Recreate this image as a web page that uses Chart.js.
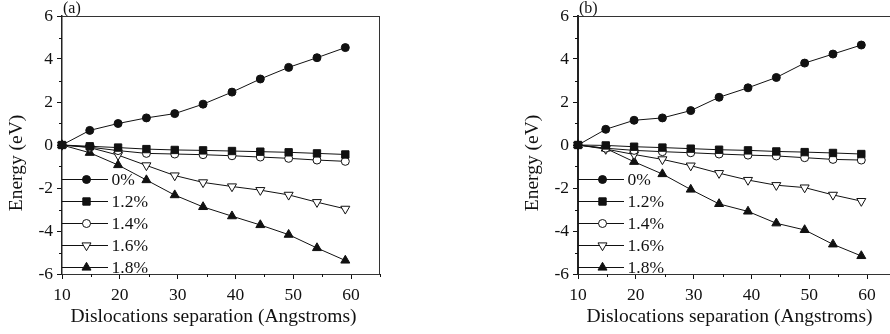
<!DOCTYPE html>
<html>
<head>
<meta charset="utf-8">
<script src="https://cdn.jsdelivr.net/npm/chart.js@4.4.1/dist/chart.umd.min.js"></script>
<style>
html, body { margin: 0; padding: 0; background: #fff; overflow: hidden; }
#wrap { position: relative; width: 890px; height: 334px; overflow: hidden; }
#boxA { position: absolute; left: 0; top: 0; width: 445px; height: 334px; }
#boxB { position: absolute; left: 445px; top: 0; width: 460px; height: 334px; }
</style>
</head>
<body>
<div id="wrap">
  <div id="boxA"><canvas id="chartA" width="445" height="334"></canvas></div>
  <div id="boxB"><canvas id="chartB" width="460" height="334"></canvas></div>
</div>
<script>
// separation in Angstroms (same for both panels)
const separation = [10, 14.8, 19.7, 24.6, 29.5, 34.4, 39.4, 44.3, 49.2, 54.1, 59.0]
const strainLabels = ['0%', '1.2%', '1.4%', '1.6%', '1.8%']
const xTicks = [10, 20, 30, 40, 50, 60]
const yTicks = [-6, -4, -2, 0, 2, 4, 6]

// panel (a)
const a0  = [0, 0.68, 1.00, 1.26, 1.46, 1.90, 2.46, 3.07, 3.61, 4.06, 4.53]
const a12 = [0, -0.06, -0.12, -0.19, -0.23, -0.25, -0.28, -0.31, -0.34, -0.39, -0.44]
const a14 = [0, -0.10, -0.26, -0.39, -0.42, -0.45, -0.50, -0.56, -0.62, -0.70, -0.76]
const a16 = [0, -0.12, -0.47, -0.95, -1.42, -1.74, -1.93, -2.10, -2.32, -2.66, -2.97]
const a18 = [0, -0.36, -0.93, -1.63, -2.33, -2.88, -3.31, -3.72, -4.17, -4.79, -5.37]

// panel (b)
const b0  = [0, 0.73, 1.15, 1.26, 1.60, 2.22, 2.66, 3.14, 3.81, 4.23, 4.65]
const b12 = [0, -0.02, -0.08, -0.12, -0.17, -0.22, -0.25, -0.30, -0.33, -0.37, -0.42]
const b14 = [0, -0.15, -0.25, -0.31, -0.36, -0.42, -0.47, -0.51, -0.59, -0.67, -0.70]
const b16 = [0, -0.19, -0.44, -0.67, -0.96, -1.31, -1.63, -1.87, -1.98, -2.32, -2.61]
const b18 = [0, -0.16, -0.78, -1.35, -2.07, -2.74, -3.09, -3.64, -3.95, -4.62, -5.16]

const serif = '"Liberation Serif", "Times New Roman", serif'
const ink = '#111'

// marker look per strain
const markers = [
    {pointStyle: 'circle',   radius: 4,   rotation: 0,   fill: ink},
    {pointStyle: 'rect',     radius: 5.2, rotation: 0,   fill: ink},
    {pointStyle: 'circle',   radius: 4,   rotation: 0,   fill: '#fff'},
    {pointStyle: 'triangle', radius: 5.2, rotation: 180, fill: '#fff'},
    {pointStyle: 'triangle', radius: 5.2, rotation: 0,   fill: ink}
]

function makeDatasets(seriesList)
{
    return seriesList.map((vals, i) => {
        var m = markers[i]
        return {
            label: strainLabels[i],
            data: vals.map((v, k) => ({x: separation[k], y: v})),
            borderColor: ink,
            borderWidth: 1,
            backgroundColor: m.fill,
            pointStyle: m.pointStyle,
            pointRadius: m.radius,
            pointRotation: m.rotation,
            pointBorderColor: ink,
            pointBackgroundColor: m.fill,
            pointBorderWidth: 1,
            tension: 0,
            clip: false
        }
    })
}

// frame, minor ticks, titles, panel letter and the inset legend
const decorPlugin = {
    id: 'decor',
    afterDraw(chart, args, opts) {
        var ctx = chart.ctx
        var area = chart.chartArea
        var xs = chart.scales.x, ys = chart.scales.y
        ctx.save()
        ctx.strokeStyle = '#333'
        ctx.lineWidth = 1
        ctx.beginPath()
        ctx.moveTo(area.left, area.top + 0.5)
        ctx.lineTo(area.right, area.top + 0.5)
        ctx.moveTo(area.right - 0.5, area.top)
        ctx.lineTo(area.right - 0.5, area.bottom)
        ctx.stroke()

        // minor ticks
        ctx.strokeStyle = ink
        ctx.beginPath()
        for (var v = -5; v <= 5; v += 2) {
            var py = Math.round(ys.getPixelForValue(v)) + 0.5
            ctx.moveTo(area.left - 3, py)
            ctx.lineTo(area.left, py)
        }
        for (var u = 15; u <= 65; u += 10) {
            var px = Math.round(xs.getPixelForValue(u)) + 0.5
            ctx.moveTo(px, area.bottom)
            ctx.lineTo(px, area.bottom + 3)
        }
        ctx.stroke()

        // axis titles
        ctx.fillStyle = ink
        ctx.font = '19.5px ' + serif
        ctx.textAlign = 'center'
        ctx.textBaseline = 'middle'
        ctx.fillText('Dislocations separation (Angstroms)', area.left + 151.5, 317)
        ctx.save()
        ctx.translate(area.left - 45.5, 163)
        ctx.rotate(-Math.PI / 2)
        ctx.fillText('Energy (eV)', 0, 0)
        ctx.restore()

        // panel letter
        ctx.font = '16px ' + serif
        ctx.textAlign = 'left'
        ctx.textBaseline = 'alphabetic'
        ctx.fillText(opts.letter, area.left + 1, 13)

        // legend
        ctx.font = '17.5px ' + serif
        ctx.textBaseline = 'middle'
        chart.data.datasets.forEach((ds, i) => {
            var ly = area.top + 163 + i * 22
            ctx.strokeStyle = ink
            ctx.lineWidth = 1
            ctx.beginPath()
            ctx.moveTo(area.left, ly + 0.5)
            ctx.lineTo(area.left + 46, ly + 0.5)
            ctx.stroke()
            ctx.fillStyle = ds.pointBackgroundColor
            ctx.strokeStyle = ink
            Chart.helpers.drawPoint(ctx, {
                pointStyle: ds.pointStyle,
                radius: ds.pointRadius,
                rotation: ds.pointRotation,
                borderWidth: 1
            }, area.left + 24.5, ly + 0.5)
            ctx.fillStyle = ink
            ctx.fillText(ds.label, area.left + 49.5, ly + 1)
        })
        ctx.restore()
    }
}

function makeChart(canvasId, seriesList, letter, axisWidth, rightPad, axisLine)
{
    var ctx = document.getElementById(canvasId).getContext('2d')
    return new Chart(ctx, {
        type: 'line',
        data: {datasets: makeDatasets(seriesList)},
        plugins: [decorPlugin],
        options: {
            responsive: false,
            animation: false,
            devicePixelRatio: 1,
            layout: {padding: {top: 16, right: rightPad, left: 0, bottom: 0}},
            plugins: {
                legend: {display: false},
                tooltip: {enabled: false},
                decor: {letter: letter}
            },
            scales: {
                x: {
                    type: 'linear',
                    min: 10,
                    max: 65,
                    afterBuildTicks: (s) => { s.ticks = xTicks.map(v => ({value: v})) },
                    afterFit: (s) => { s.height = 60 },
                    grid: {drawOnChartArea: false, drawTicks: true, tickLength: 5, tickColor: ink},
                    border: {display: true, color: '#333', width: 1},
                    ticks: {color: ink, font: {family: serif, size: 17.5}, padding: 6, maxRotation: 0}
                },
                y: {
                    min: -6,
                    max: 6,
                    afterBuildTicks: (s) => { s.ticks = yTicks.map(v => ({value: v})) },
                    afterFit: (s) => { s.width = axisWidth },
                    grid: {drawOnChartArea: false, drawTicks: true, tickLength: 5, tickColor: ink},
                    border: {display: true, color: '#222', width: axisLine},
                    ticks: {color: ink, font: {family: serif, size: 17.5}, padding: 4}
                }
            }
        }
    })
}

makeChart('chartA', [a0, a12, a14, a16, a18], '(a)', 62, 65, 1.5)
makeChart('chartB', [b0, b12, b14, b16, b18], '(b)', 133, 9, 2)
</script>
</body>
</html>
